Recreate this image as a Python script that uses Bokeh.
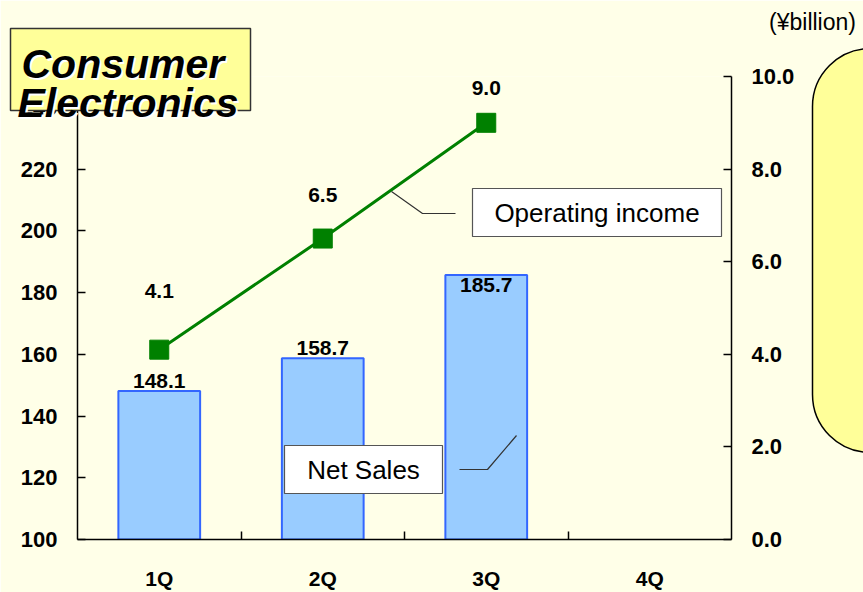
from bokeh.plotting import figure
from bokeh.models import (Range1d, LinearAxis, FixedTicker, Label, BoxAnnotation,
                          ColumnDataSource)
from bokeh.core.properties import value
from bokeh.embed import file_html
from bokeh.resources import INLINE

# ---- data ----
categories = ["1Q", "2Q", "3Q", "4Q"]
sales_quarters = ["1Q", "2Q", "3Q"]
net_sales = [148.1, 158.7, 185.7]
op_income = [4.1, 6.5, 9.0]
sales_labels = ["148.1", "158.7", "185.7"]
income_labels = ["4.1", "6.5", "9.0"]
left_ticks = [100, 120, 140, 160, 180, 200, 220, 240]
right_ticks = [0, 2, 4, 6, 8, 10]

# label offsets (screen px, positive = down)
sales_label_dy = [-10, -10, 10]
income_label_dy = [-59, -44, -35]

BG = "#FFFFE8"
FONT = "Liberation Sans"

W, H = 863, 592
# frame position in page pixels
FL, FT, FR, FB = 77, 76, 731, 541

# ================= main chart =================
p = figure(width=W, height=H, output_backend="svg", toolbar_location=None,
           x_range=Range1d(0, len(categories)), y_range=Range1d(100, 250),
           min_border_left=FL, min_border_right=W - FR,
           min_border_top=FT, min_border_bottom=H - FB)
p.background_fill_color = BG
p.border_fill_color = BG
p.outline_line_color = None
p.xgrid.visible = False
p.ygrid.visible = False
p.extra_y_ranges = {"right": Range1d(0, 10)}

xpos = {c: i + 0.5 for i, c in enumerate(categories)}
src = ColumnDataSource(dict(
    x=[xpos[c] for c in sales_quarters], sales=net_sales, income=op_income,
    slab=sales_labels, ilab=income_labels, sdy=sales_label_dy, idy=income_label_dy))

p.vbar(x="x", top="sales", bottom=100, width=0.5, source=src,
       fill_color="#99CCFF", line_color="#3366FF", line_width=2)
p.line(x="x", y="income", source=src, y_range_name="right",
       line_color="#008000", line_width=3)
p.scatter(x="x", y="income", source=src, y_range_name="right", marker="square",
          size=19, fill_color="#008000", line_color="#008000")
p.text(x="x", y="sales", text="slab", source=src, y_offset="sdy",
       text_align="center", text_baseline="middle",
       text_font=value(FONT), text_font_style="bold", text_font_size="21px",
       text_color="black")
p.text(x="x", y="income", text="ilab", source=src, y_offset="idy",
       y_range_name="right", text_align="center", text_baseline="middle",
       text_font=value(FONT), text_font_style="bold", text_font_size="21px",
       text_color="black")


def style_axis(ax):
    ax.axis_line_color = "black"
    ax.axis_line_width = 1.5
    ax.major_tick_line_color = "black"
    ax.major_tick_line_width = 1.5
    ax.major_tick_in = 8
    ax.major_tick_out = 0
    ax.minor_tick_line_color = None
    ax.major_label_text_font = FONT
    ax.major_label_text_font_style = "bold"
    ax.major_label_text_font_size = "22px"
    ax.major_label_text_color = "black"


yl = p.yaxis[0]
yl.ticker = FixedTicker(ticks=left_ticks)
style_axis(yl)
yl.major_label_standoff = 20

yr = LinearAxis(y_range_name="right", ticker=FixedTicker(ticks=right_ticks))
style_axis(yr)
yr.major_label_overrides = {t: f"{t:.1f}" for t in right_ticks}
yr.major_label_standoff = 20
p.add_layout(yr, "right")

xa = p.xaxis[0]
xa.ticker = FixedTicker(ticks=[xpos[c] for c in categories],
                        minor_ticks=list(range(1, len(categories))))
style_axis(xa)
xa.major_tick_in = 0
xa.minor_tick_line_color = "black"
xa.minor_tick_line_width = 1.5
xa.minor_tick_in = 8
xa.minor_tick_out = 0
xa.major_label_overrides = {xpos[c]: c for c in categories}
xa.major_label_text_font_size = "21px"
xa.major_label_standoff = 27

# ================= overlay (page-pixel coordinates) =================
o = figure(width=W, height=H, output_backend="svg", toolbar_location=None,
           x_range=Range1d(0, W), y_range=Range1d(0, H),
           x_axis_type=None, y_axis_type=None, min_border=0)
o.background_fill_alpha = 0
o.border_fill_alpha = 0
o.outline_line_color = None
o.styles = {"position": "absolute", "left": "0px", "top": "0px", "z-index": "2"}


def Y(v):
    return H - v


# right rounded panel
o.add_layout(BoxAnnotation(left=812, right=930, top=Y(48), bottom=Y(452),
                           fill_color="#FFFF99", fill_alpha=1, line_color="black",
                           line_width=1.5, line_alpha=1, border_radius=58))

# title box
o.quad(left=[10], right=[250], top=[Y(28)], bottom=[Y(110)],
       fill_color="#FFFF99", line_color="#333333", line_width=1.5)
for text, X0, Y0 in [("Consumer", 21, 63), ("Electronics", 17, 102)]:
    for col, d in [("white", 2), ("black", 0)]:
        o.add_layout(Label(x=X0 + d, y=Y(Y0 + d), text=text, text_font=FONT,
                           text_font_style="bold italic", text_font_size="41px",
                           text_color=col, text_align="left",
                           text_baseline="alphabetic"))

# unit label
o.add_layout(Label(x=812, y=Y(21), text="(¥billion)", text_font=FONT,
                   text_font_size="23px", text_color="black",
                   text_align="center", text_baseline="middle"))

# callouts
for (l, t, r, b), text in [((472, 188, 721, 236), "Operating income"),
                           ((284, 445, 442, 493), "Net Sales")]:
    o.quad(left=[l], right=[r], top=[Y(t)], bottom=[Y(b)],
           fill_color="white", line_color="#555555", line_width=1.2)
    o.add_layout(Label(x=(l + r) / 2, y=Y((t + b) / 2), text=text, text_font=FONT,
                       text_font_size="26px", text_color="black",
                       text_align="center", text_baseline="middle"))

for pts in [[(391, 191), (422, 213), (455, 213)],
            [(459, 469), (487, 469), (516, 435)]]:
    o.line(x=[q[0] for q in pts], y=[Y(q[1]) for q in pts],
           line_color="#333333", line_width=1.2)

html = file_html([p, o], INLINE)
html = html.replace("<body>", f'<body style="background:{BG};">', 1)
open("out.html", "w").write(html)
